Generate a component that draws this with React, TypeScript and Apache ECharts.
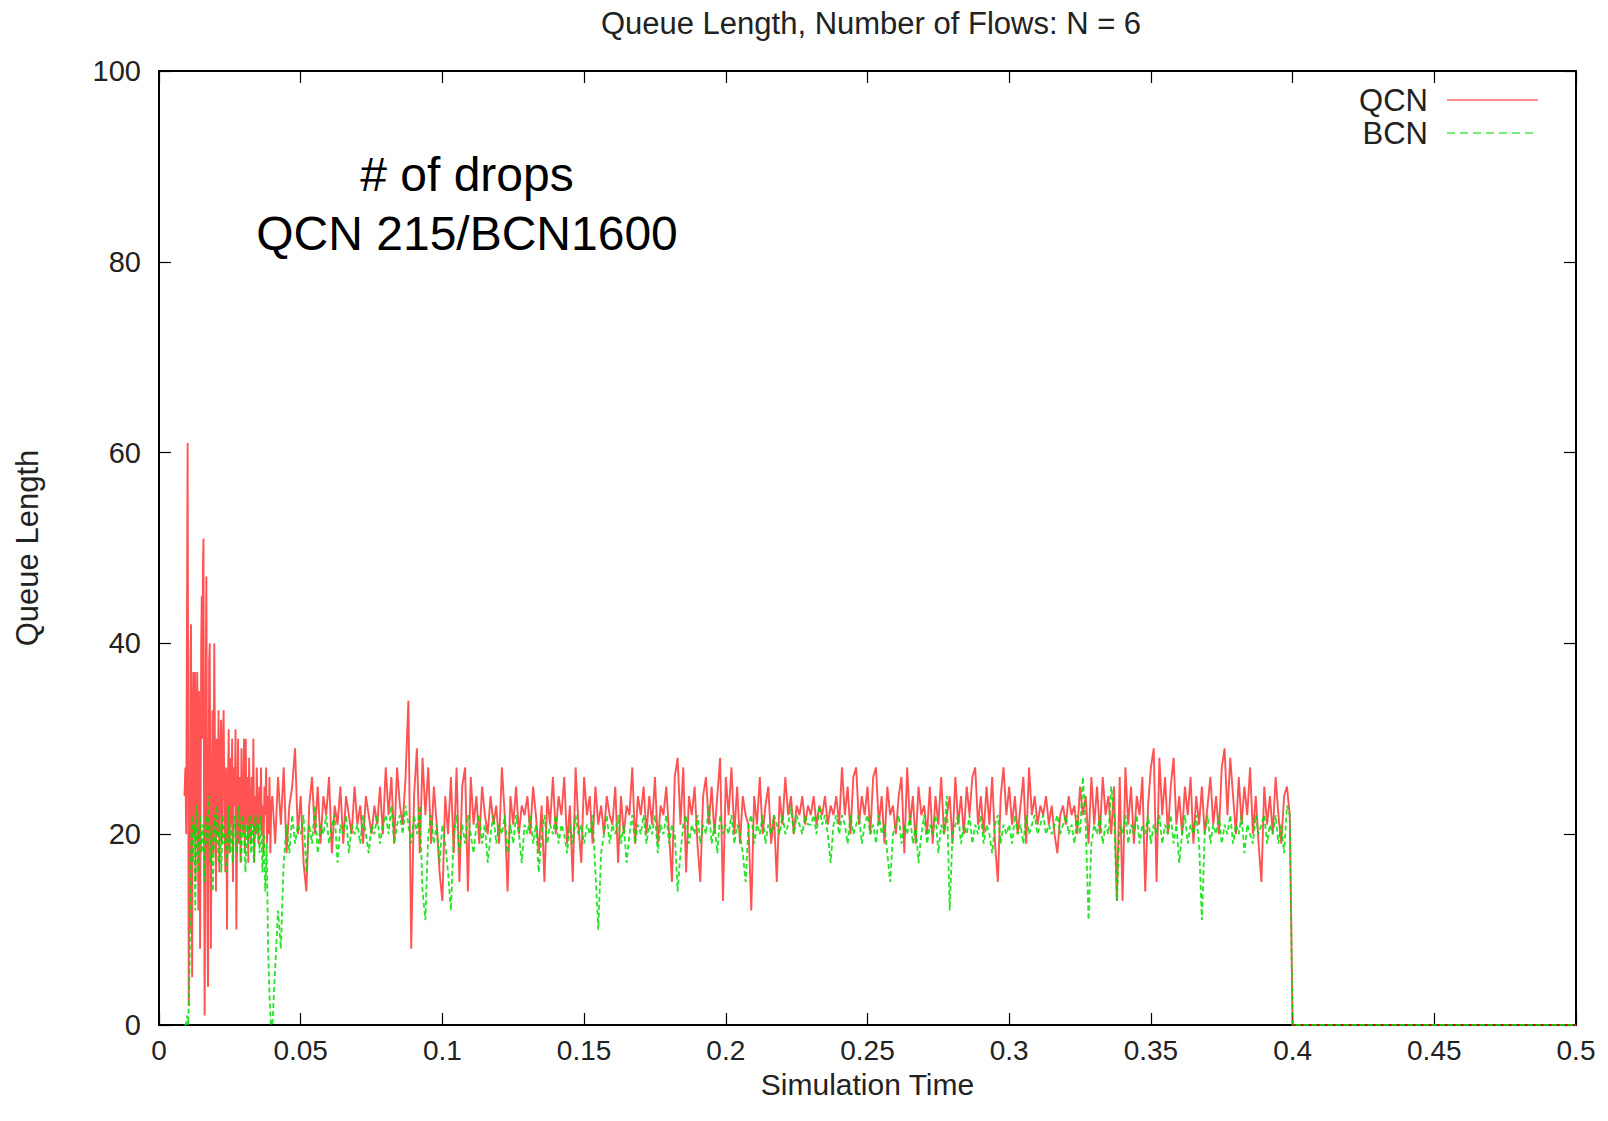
import React, { useEffect, useRef } from "react";
import * as echarts from "echarts";

const chartTitle = "Queue Length, Number of Flows: N = 6";
const xAxisName = "Simulation Time";
const yAxisName = "Queue Length";
const seriesNames = ["QCN", "BCN"];
const noteLines = ["# of drops", "QCN 215/BCN1600"];

// QCN transient (t, queue length) before steady sampling
const qcnTransient: [number, number][] = [
  [0.009, 24], [0.0093, 27], [0.0096, 20], [0.0099, 45], [0.0101, 61], [0.0103, 30], [0.0105, 2],
  [0.0107, 25], [0.0109, 10], [0.0111, 38], [0.0113, 42], [0.0115, 18], [0.0117, 5], [0.0119, 30],
  [0.0121, 37], [0.0123, 20], [0.0125, 33], [0.0127, 37], [0.0129, 15], [0.0131, 28], [0.0133, 33],
  [0.0135, 37], [0.0137, 22], [0.0139, 12], [0.0141, 35], [0.0143, 28], [0.0145, 8], [0.0147, 24],
  [0.0149, 40], [0.0151, 45], [0.0153, 30], [0.0155, 48], [0.0157, 51], [0.0159, 20], [0.0161, 1],
  [0.0163, 15], [0.0165, 35], [0.0167, 47], [0.0169, 30], [0.0171, 10], [0.0173, 4], [0.0175, 22],
  [0.0177, 38], [0.0179, 40], [0.0181, 25], [0.0183, 8], [0.0186, 24], [0.0189, 33], [0.0192, 18],
  [0.0195, 40], [0.0198, 26], [0.0201, 14], [0.0204, 30], [0.0207, 20], [0.021, 33], [0.0213, 16],
  [0.0216, 28], [0.0219, 32], [0.0222, 19], [0.0225, 29], [0.0228, 33], [0.0231, 22], [0.0234, 16],
  [0.0237, 27], [0.024, 10], [0.0243, 24], [0.0246, 31], [0.0249, 18], [0.0252, 28], [0.0255, 21],
  [0.0258, 30], [0.0261, 15], [0.0264, 27], [0.0267, 23], [0.027, 31], [0.0273, 10], [0.0276, 22],
  [0.0279, 30], [0.0282, 19], [0.0285, 26], [0.0288, 17], [0.0291, 29], [0.0294, 23], [0.0297, 20],
  [0.03, 30], [0.0303, 18], [0.0306, 30], [0.0309, 21], [0.0312, 26], [0.0315, 17], [0.0318, 28],
  [0.0321, 22], [0.0324, 19], [0.0327, 26], [0.033, 21], [0.0333, 30], [0.0336, 17], [0.0339, 24],
  [0.0342, 20], [0.0345, 27], [0.0348, 22], [0.0351, 19], [0.0354, 25], [0.0357, 21], [0.036, 27],
  [0.0363, 20], [0.0366, 23], [0.0369, 18], [0.0372, 25], [0.0375, 22], [0.0378, 27], [0.0381, 19],
  [0.0384, 24], [0.0387, 20], [0.039, 26], [0.0393, 18], [0.0396, 23],
];

// BCN transient
const bcnTransient: [number, number][] = [
  [0.009, 0], [0.0095, 0], [0.01, 1], [0.0103, 0], [0.0106, 3], [0.011, 10], [0.0113, 18],
  [0.0116, 22], [0.012, 17], [0.0124, 21], [0.0128, 12], [0.0132, 23], [0.0136, 20], [0.014, 16],
  [0.0145, 22], [0.015, 18], [0.0155, 21], [0.016, 15], [0.0165, 22], [0.017, 19], [0.0175, 24],
  [0.018, 17], [0.0185, 21], [0.019, 14], [0.0195, 22], [0.02, 19], [0.0205, 23], [0.021, 17],
  [0.0215, 21], [0.022, 16], [0.0225, 22], [0.023, 19], [0.0235, 20], [0.024, 16], [0.0245, 23],
  [0.025, 18], [0.0255, 21], [0.026, 17], [0.0265, 22], [0.027, 20], [0.0275, 18], [0.028, 23],
  [0.0285, 21], [0.029, 17], [0.0295, 22], [0.03, 20], [0.0305, 16], [0.031, 21], [0.0315, 19],
  [0.032, 22], [0.0325, 18], [0.033, 21], [0.0335, 17], [0.034, 22], [0.0345, 20], [0.035, 21],
  [0.0355, 18], [0.036, 22], [0.0365, 16], [0.037, 20], [0.0375, 14], [0.038, 19], [0.0385, 8],
  [0.039, 3], [0.0395, 0],
];

// steady sampling: from 0.040, every 0.001 (one row = 0.01 s)
const steadyStart = 0.04;
const steadyStep = 0.001;

const qcnSteady: number[] = [
  24, 19, 26, 21, 27, 18, 23, 25, 29, 20,
  24, 17, 14, 23, 26, 20, 25, 19, 24, 22,
  26, 18, 23, 21, 25, 19, 24, 22, 20, 25,
  21, 23, 19, 24, 22, 20, 23, 21, 25, 20,
  27, 22, 26, 19, 27, 23, 21, 26, 34, 8,
  24, 29, 18, 28, 22, 27, 19, 25, 21, 16,
  13, 24, 20, 26, 18, 27, 15, 25, 27, 14,
  26, 21, 24, 19, 25, 22, 20, 24, 21, 23,
  19, 27, 22, 14, 24, 21, 25, 20, 23, 22,
  24, 20, 25, 22, 18, 23, 15, 24, 21, 26,
  20, 24, 22, 26, 19, 23, 15, 27, 21, 17,
  26, 22, 24, 19, 25, 21, 23, 20, 24, 22,
  21, 25, 17, 24, 20, 23, 22, 27, 19, 24,
  22, 25, 20, 24, 21, 26, 19, 23, 22, 25,
  20, 15, 26, 28, 21, 27, 16, 24, 22, 25,
  19, 15, 24, 26, 21, 25, 20, 24, 28, 13,
  26, 22, 27, 20, 25, 19, 24, 22, 21, 12,
  24, 21, 26, 20, 23, 25, 19, 22, 15, 24,
  21, 26, 22, 24, 20, 23, 22, 24, 21, 23,
  22, 24, 21, 23, 22, 24, 21, 23, 22, 24,
  21, 27, 22, 25, 20, 26, 27, 21, 24, 22,
  25, 20, 26, 27, 21, 24, 19, 25, 22, 23,
  20, 24, 26, 18, 27, 21, 24, 19, 25, 22,
  23, 20, 25, 19, 24, 21, 26, 20, 22, 24,
  19, 26, 21, 24, 20, 25, 22, 26, 27, 21,
  24, 20, 25, 21, 26, 19, 15, 24, 27, 22,
  25, 21, 24, 20, 23, 26, 19, 27, 22, 24,
  21, 23, 22, 24, 21, 23, 20, 18, 22, 23,
  21, 24, 22, 23, 20, 25, 22, 24, 19, 26,
  21, 25, 20, 26, 22, 24, 20, 25, 13, 26,
  13, 27, 21, 25, 19, 24, 22, 26, 14, 23,
  27, 29, 15, 28, 22, 26, 20, 25, 28, 21,
  24, 20, 25, 22, 26, 19, 24, 21, 25, 20,
  23, 26, 21, 24, 20, 27, 29, 22, 28, 24,
  20, 26, 21, 25, 22, 27, 20, 24, 19, 15,
  25, 21, 24, 20, 26, 22, 19, 24, 25, 22,
];

const bcnSteady: number[] = [
  0, 6, 12, 8, 17, 21, 18, 22, 19, 21,
  20, 22, 16, 21, 19, 23, 18, 21, 20, 22,
  19, 21, 22, 17, 21, 20, 22, 18, 21, 20,
  21, 19, 22, 20, 18, 21, 20, 22, 19, 21,
  22, 20, 23, 19, 21, 22, 20, 23, 21, 19,
  22, 20, 23, 14, 11, 20, 22, 19, 21, 17,
  21, 19, 16, 12, 20, 22, 18, 21, 19, 22,
  20, 18, 21, 22, 19, 21, 17, 20, 22, 19,
  21, 20, 22, 18, 21, 19, 22, 20, 17, 21,
  20, 22, 19, 21, 16, 20, 22, 19, 21, 20,
  22, 19, 21, 20, 18, 21, 19, 22, 20, 21,
  19, 21, 20, 22, 16, 10, 18, 20, 22, 19,
  21, 20, 22, 19, 21, 17, 20, 22, 19, 21,
  20, 22, 19, 21, 20, 22, 18, 21, 20, 22,
  19, 21, 20, 14, 18, 21, 22, 19, 21, 20,
  22, 19, 21, 20, 23, 19, 21, 18, 22, 20,
  21, 20, 22, 19, 21, 20, 18, 15, 21, 22,
  19, 21, 20, 22, 19, 21, 20, 22, 21, 20,
  22, 20, 21, 23, 20, 22, 21, 20, 22, 21,
  21, 22, 20, 23, 21, 22, 20, 17, 21, 22,
  20, 22, 21, 19, 22, 20, 21, 22, 19, 21,
  22, 20, 21, 19, 22, 20, 21, 18, 15, 20,
  21, 22, 19, 21, 20, 22, 19, 21, 17, 20,
  22, 19, 21, 20, 22, 18, 21, 20, 24, 12,
  20, 21, 22, 19, 21, 20, 22, 19, 21, 20,
  22, 19, 21, 20, 18, 21, 22, 19, 21, 20,
  21, 19, 22, 20, 21, 19, 22, 20, 21, 22,
  20, 21, 22, 20, 21, 20, 21, 22, 20, 21,
  22, 20, 21, 19, 22, 20, 26, 21, 11, 19,
  21, 20, 22, 19, 21, 20, 25, 22, 13, 21,
  20, 22, 19, 21, 20, 22, 19, 21, 20, 22,
  19, 21, 20, 22, 19, 21, 20, 22, 19, 21,
  17, 20, 22, 19, 21, 20, 22, 19, 11, 20,
  22, 19, 21, 20, 22, 19, 21, 20, 22, 19,
  21, 20, 22, 18, 21, 20, 19, 22, 20, 21,
  22, 19, 21, 20, 22, 19, 21, 18, 23, 22,
];

// queue empties at end of simulation
const tail: [number, number][] = [[0.4, 0], [0.5, 0]];

const FONT = "'Liberation Sans', Arial, Helvetica, sans-serif";

function build(trans: [number, number][], steady: number[]): [number, number][] {
  const pts: [number, number][] = trans.slice();
  steady.forEach((v, i) => pts.push([+(steadyStart + i * steadyStep).toFixed(4), v]));
  return pts.concat(tail);
}

export default function App() {
  const ref = useRef<HTMLDivElement>(null);
  useEffect(() => {
    if (!ref.current) return;
    const chart = echarts.init(ref.current, undefined, { renderer: "svg" });
    const axisLine = { show: true, onZero: false, lineStyle: { color: "#000", width: 2 } };
    const axisTick = { show: true, inside: true, length: 12, lineStyle: { color: "#000", width: 1.2 } };
    const fmt = (v: number) => String(+v.toFixed(2));
    chart.setOption({
      animation: false,
      backgroundColor: "#fff",
      title: {
        text: chartTitle,
        left: 866,
        top: 3,
        textAlign: "center",
        textStyle: { fontFamily: FONT, fontSize: 31, fontWeight: "normal", color: "#222" },
      },
      grid: { left: 159, right: 32, top: 71, bottom: 96, containLabel: false },
      xAxis: [
        {
          type: "value",
          min: 0,
          max: 0.5,
          interval: 0.05,
          position: "bottom",
          axisLine,
          axisTick,
          splitLine: { show: false },
          axisLabel: { margin: 11, fontSize: 28, fontFamily: FONT, color: "#222", formatter: fmt },
          name: xAxisName,
          nameLocation: "middle",
          nameGap: 44,
          nameMoveOverlap: false,
          nameTextStyle: { fontSize: 30, fontFamily: FONT, color: "#222" },
        },
        {
          type: "value",
          min: 0,
          max: 0.5,
          interval: 0.05,
          position: "top",
          axisLine,
          axisTick,
          splitLine: { show: false },
          axisLabel: { show: false },
        },
      ],
      yAxis: [
        {
          type: "value",
          min: 0,
          max: 100,
          interval: 20,
          position: "left",
          axisLine,
          axisTick,
          splitLine: { show: false },
          axisLabel: { margin: 18, fontSize: 29, fontFamily: FONT, color: "#222" },
          name: yAxisName,
          nameLocation: "middle",
          nameGap: 116,
          nameMoveOverlap: false,
          nameTextStyle: { fontSize: 31, fontFamily: FONT, color: "#222" },
        },
        {
          type: "value",
          min: 0,
          max: 100,
          interval: 20,
          position: "right",
          axisLine,
          axisTick,
          splitLine: { show: false },
          axisLabel: { show: false },
        },
      ],
      series: [
        {
          name: seriesNames[0],
          type: "line",
          showSymbol: false,
          symbol: "none",
          data: build(qcnTransient, qcnSteady),
          lineStyle: { color: "#ff1a1a", width: 1.9, opacity: 0.75 },
          itemStyle: { color: "#ff1a1a" },
          z: 2,
        },
        {
          name: seriesNames[1],
          type: "line",
          showSymbol: false,
          symbol: "none",
          data: build(bcnTransient, bcnSteady),
          lineStyle: { color: "#00e000", width: 1.8, type: [5, 3], opacity: 0.85 },
          itemStyle: { color: "#00e000" },
          z: 3,
        },
      ],
      graphic: [
        {
          type: "text",
          x: 1428,
          y: 100,
          style: { text: seriesNames[0], fontSize: 31, fontFamily: FONT, fill: "#222", align: "right", verticalAlign: "middle" },
        },
        {
          type: "line",
          shape: { x1: 1447, y1: 100, x2: 1538, y2: 100 },
          style: { stroke: "#ff0000", lineWidth: 1.5, opacity: 0.6 },
        },
        {
          type: "text",
          x: 1428,
          y: 133,
          style: { text: seriesNames[1], fontSize: 31, fontFamily: FONT, fill: "#222", align: "right", verticalAlign: "middle" },
        },
        {
          type: "line",
          shape: { x1: 1447, y1: 133, x2: 1538, y2: 133 },
          style: { stroke: "#00dd00", lineWidth: 1.5, lineDash: [8, 5], opacity: 0.7 },
        },
        {
          type: "text",
          x: 467,
          y: 174,
          style: { text: noteLines[0], fontSize: 48, fontFamily: FONT, fill: "#000", align: "center", verticalAlign: "middle" },
        },
        {
          type: "text",
          x: 467,
          y: 233,
          style: { text: noteLines[1], fontSize: 48, fontFamily: FONT, fill: "#000", align: "center", verticalAlign: "middle" },
        },
      ],
    });
    return () => chart.dispose();
  }, []);
  return <div ref={ref} style={{ width: 1608, height: 1121, position: "absolute", left: 0, top: 0 }} />;
}
